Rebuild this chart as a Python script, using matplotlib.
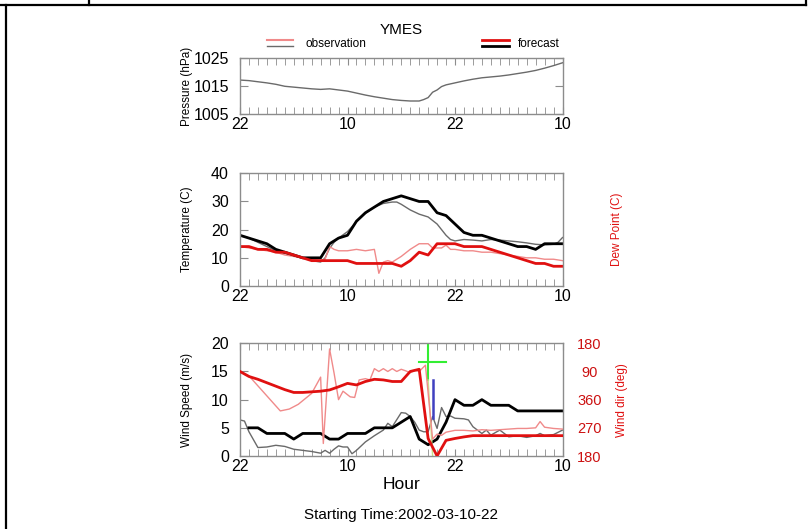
import numpy as np
import matplotlib
matplotlib.use("Agg")
import matplotlib.pyplot as plt
from matplotlib.lines import Line2D

plt.rcParams['font.family'] = ['Liberation Sans', 'DejaVu Sans']

station = "YMES"
start_time = "2002-03-10-22"
xtick_labels = ['22', '10', '22', '10']
dir_tick_labels = ['180', '270', '360', '90', '180']

# pressure obs
p_hours = [0, 1, 2, 3, 4, 5, 6, 7, 8, 9, 10, 11, 12, 13, 14, 15, 16, 17, 18, 19, 20,
           20.5, 21, 21.5, 22, 22.5, 23, 24, 25, 26, 27, 28, 29, 30, 31, 32, 33, 34, 35, 36]
p_obs = [1017.1, 1016.9, 1016.5, 1016.1, 1015.6, 1014.9, 1014.6, 1014.3, 1014.0, 1013.8,
         1014.0, 1013.6, 1013.2, 1012.5, 1011.8, 1011.2, 1010.7, 1010.2, 1009.9, 1009.7,
         1009.7, 1010.2, 1010.9, 1012.8, 1013.6, 1014.8, 1015.4, 1016.1, 1016.8, 1017.4,
         1017.9, 1018.2, 1018.5, 1018.9, 1019.4, 1019.9, 1020.5, 1021.3, 1022.2, 1023.2]

# forecast, hourly from 22h
fc_hours = list(range(37))
fc_temp = [18, 17, 16, 15, 13, 12, 11, 10, 10, 10, 15, 17, 18, 23, 26, 28, 30, 31, 32, 31,
           30, 30, 26, 25, 22, 19, 18, 18, 17, 16, 15, 14, 14, 13, 15, 15, 15]
fc_dew = [14, 14, 13, 13, 12, 12, 11, 10, 9, 9, 9, 9, 9, 8, 8, 8, 8, 8, 7, 9,
          12, 11, 15, 15, 15, 14, 14, 14, 13, 12, 11, 10, 9, 8, 8, 7, 7]
fc_dir = [90, 74, 65, 54, 43, 32, 23, 23, 25, 27, 31, 41, 52, 47, 58, 65, 63, 58, 58, 90,
          97, 236, 180, 230, 236, 241, 245, 245, 245, 245, 245, 245, 245, 245, 245, 245, 245]
fc_spd_hours = list(range(1, 37))
fc_spd = [5, 5, 4, 4, 4, 3, 4, 4, 4, 3, 3, 4, 4, 4, 5, 5, 5, 6, 7, 3,
          2, 3, 6, 10, 9, 9, 10, 9, 9, 9, 8, 8, 8, 8, 8, 8]

# observed temperature
t_hours = [0, 1, 2, 3, 4, 5, 6, 7, 8, 9, 9.5, 10, 10.5, 11, 12, 13, 14, 15, 16, 17, 17.5,
           18, 19, 20, 21, 22, 23, 23.5, 24, 25, 26, 27, 28, 29, 30, 31, 32, 33, 34, 35, 35.5, 36]
t_obs = [18, 17, 15.5, 14, 12.5, 11.5, 11, 10, 9, 8.5, 10, 13.4, 15.5, 17, 19.3, 22.8, 25.8,
         28, 29.3, 29.8, 29.8, 29, 27, 25.5, 24.5, 22, 18, 16.5, 16, 16.5, 16.3, 16, 16.5,
         16.3, 16, 15.7, 15.3, 14.8, 14.6, 14.8, 15.5, 17.2]

# observed dew point
d_hours = [0, 1, 2, 3, 4, 5, 6, 7, 8, 9, 9.5, 10, 10.5, 11, 12, 13, 14, 15, 15.3, 15.5, 16,
           16.5, 17, 18, 19, 20, 21, 21.5, 22, 22.5, 23, 23.5, 24, 25, 26, 27, 28, 29, 30, 31,
           32, 33, 34, 35, 36]
d_obs = [14, 13.5, 13, 12.5, 12, 11, 10.5, 10, 9.5, 9, 9.5, 14, 13, 12.5, 12.5, 13, 12.5, 13,
         8, 4.5, 8.5, 9, 8.5, 10.5, 13, 15, 15, 13.5, 13.5, 13.5, 14.5, 13, 13, 12.5, 12.5, 12,
         12, 11.5, 11, 10.5, 10, 10, 9.5, 9.5, 9]

# observed wind speed
w_hours = [0, 0.5, 1, 2, 3, 4, 5, 6, 7, 8, 9, 9.5, 10, 10.5, 11, 11.5, 12, 12.5, 13, 14, 15,
           16, 16.5, 17, 18, 18.5, 19, 19.5, 20, 20.5, 21, 21.5, 22, 22.5, 23, 23.5, 24, 25,
           25.5, 26, 26.5, 27, 27.5, 28, 29, 29.5, 30, 31, 32, 33, 33.5, 34, 35, 36]
w_obs = [6.4, 6.2, 4.3, 1.5, 1.6, 1.9, 1.7, 1.2, 1.0, 0.8, 0.5, 1.0, 0.5, 1.2, 1.8, 1.6, 1.6,
         0.4, 1.0, 2.5, 3.6, 4.6, 5.8, 5.2, 7.7, 7.6, 7.0, 6.0, 4.6, 4.3, 4.3, 7.0, 4.9, 8.6,
         7.0, 7.1, 6.7, 6.6, 6.4, 5.2, 4.6, 4.0, 4.6, 3.7, 4.6, 4.0, 3.4, 3.6, 3.3, 3.6, 4.0,
         3.6, 3.8, 4.6]

# observed wind direction (deg)
dir_hours = [0, 1, 4.5, 5.5, 6.5, 8, 9, 9.3, 10, 10.5, 11, 11.5, 12.3, 12.8, 13.3, 14, 14.5,
             15, 15.5, 16, 16.5, 17, 17.5, 18, 18.5, 19, 19.5, 20, 20.7, 21.5, 22, 22.5, 23,
             24, 25, 26, 27, 28, 29, 30, 31, 32, 33, 33.5, 34, 35, 36]
dir_obs = [90, 76, 324, 330, 345, 20, 72, 220, 162, 85, 0, 27, 9, 7, 63, 67, 63, 99, 90, 99,
           90, 99, 90, 97, 92, 86, 94, 90, 110, 234, 250, 246, 256, 262, 262, 260, 264, 262,
           264, 266, 268, 268, 270, 290, 272, 268, 266]

# markers in wind panel
cross_hour = 21
cross_span = [20, 23]
cross_level = 16.7
cross_bottom = 13.5
blue_hour = 21.5
blue_span = [6.7, 13.5]


def unwrap(d):
    d = np.asarray(d, dtype=float)
    return np.where(d < 180, d + 360, d)


grey = '#6a6a6a'
pink = '#f08a8a'
red = '#e01010'
frame = '#8c8c8c'

fig = plt.figure(figsize=(8.11, 5.29), dpi=100)

W = 811.0
H = 529.0


def box(x0, x1, ytop, ybot):
    return [x0 / W, 1 - ybot / H, (x1 - x0) / W, (ybot - ytop) / H]


def style(ax, ymin, ymax, yt):
    ax.set_xlim(0, 36)
    ax.set_ylim(ymin, ymax)
    ax.set_xticks([0, 12, 24, 36])
    ax.set_xticklabels(xtick_labels)
    ax.set_xticks(np.arange(0, 37, 1), minor=True)
    ax.set_yticks(yt)
    ax.tick_params(axis='both', which='both', direction='in', top=True, right=True,
                   color=frame, labelsize=11.5)
    ax.tick_params(axis='x', which='major', length=5, pad=2)
    ax.tick_params(axis='x', which='minor', length=5)
    ax.tick_params(axis='y', which='major', length=6, pad=8)
    for s in ax.spines.values():
        s.set_color(frame)
        s.set_linewidth(1)


ax1 = fig.add_axes(box(240, 562.5, 57.7, 114.3))
ax2 = fig.add_axes(box(240, 562.5, 173.3, 286))
ax3 = fig.add_axes(box(240, 562.5, 343.3, 456))
left_lab = (193 - 240) / 322.5

# pressure
style(ax1, 1005, 1025, [1005, 1015, 1025])
ax1.plot(p_hours, p_obs, color=grey, lw=1)
ax1.set_ylabel('Pressure (hPa)', fontsize=8.5)
ax1.yaxis.set_label_coords(left_lab, 0.5)

# temperature / dew point
style(ax2, 0, 40, [0, 10, 20, 30, 40])
ax2.plot(t_hours, t_obs, color=grey, lw=1)
ax2.plot(d_hours, d_obs, color=pink, lw=1)
ax2.plot(fc_hours, fc_temp, color='black', lw=2)
ax2.plot(fc_hours, fc_dew, color=red, lw=2)
ax2.set_ylabel('Temperature (C)', fontsize=8.5)
ax2.yaxis.set_label_coords(left_lab, 0.5)
ax2b = ax2.twinx()
ax2b.set_ylim(0, 40)
ax2b.set_yticks([])
ax2b.set_ylabel('Dew Point (C)', fontsize=8.5, color=red)
ax2b.yaxis.set_label_coords((611 - 240) / 322.5, 0.5)
for s in ax2b.spines.values():
    s.set_visible(False)

# wind
style(ax3, 0, 20, [0, 5, 10, 15, 20])
ax3.plot(w_hours, w_obs, color=grey, lw=1)
ax3.plot(fc_spd_hours, fc_spd, color='black', lw=2)
ax3.set_ylabel('Wind Speed (m/s)', fontsize=8.5)
ax3.yaxis.set_label_coords(left_lab, 0.5)
ax3.set_xlabel('Hour', fontsize=12.5, labelpad=2)
ax3b = ax3.twinx()
ax3b.set_ylim(180, 540)
ax3b.set_yticks([180, 270, 360, 450, 540])
ax3b.set_yticklabels(dir_tick_labels)
ax3b.tick_params(axis='y', direction='in', length=0, labelsize=10.5, labelcolor='#cc1111',
                 pad=19.5)
for lab in ax3b.get_yticklabels():
    lab.set_horizontalalignment('center')
for s in ax3b.spines.values():
    s.set_visible(False)
ax3b.set_ylabel('Wind dir (deg)', fontsize=8.5, color=red)
ax3b.yaxis.set_label_coords((616 - 240) / 322.5, 0.5)
ax3b.plot(dir_hours, unwrap(dir_obs), color=pink, lw=1)
ax3b.plot(fc_hours, unwrap(fc_dir), color=red, lw=2)

ax3.plot([cross_hour, cross_hour], [cross_bottom, 20], color='#33ee33', lw=1.5)
ax3.plot(cross_span, [cross_level, cross_level], color='#33ee33', lw=1.5)
ax3.plot([cross_hour, blue_hour], [cross_bottom, 0], color='#c8e08a', lw=1)
ax3.plot([blue_hour, blue_hour], blue_span, color='#4040c0', lw=1.8)

# title + legend
fig.text(401 / W, 1 - 30.5 / H, station, ha='center', va='center', fontsize=11)
fig.add_artist(Line2D([267 / W, 293 / W], [1 - 40 / H] * 2, color=pink, lw=1.5))
fig.add_artist(Line2D([267 / W, 293 / W], [1 - 45.7 / H] * 2, color=grey, lw=1))
fig.text(305 / W, 1 - 44 / H, 'observation', ha='left', va='center', fontsize=8.5)
fig.add_artist(Line2D([482 / W, 509 / W], [1 - 40 / H] * 2, color=red, lw=2))
fig.add_artist(Line2D([482 / W, 509 / W], [1 - 46 / H] * 2, color='black', lw=2))
fig.text(518 / W, 1 - 44 / H, 'forecast', ha='left', va='center', fontsize=8.5)

fig.text(401 / W, 1 - 515 / H, 'Starting Time:' + start_time, ha='center', va='center',
         fontsize=11)

# page frame
fig.add_artist(Line2D([0, 806 / W], [1 - 5 / H] * 2, color='black', lw=1.6))
fig.add_artist(Line2D([5.5 / W] * 2, [1 - 5 / H, 0], color='black', lw=1.6))
fig.add_artist(Line2D([89 / W] * 2, [1, 1 - 5 / H], color='black', lw=1.6))
fig.add_artist(Line2D([806 / W] * 2, [1, 1 - 5 / H], color='black', lw=1.6))

fig.savefig('out.png', dpi=100)
